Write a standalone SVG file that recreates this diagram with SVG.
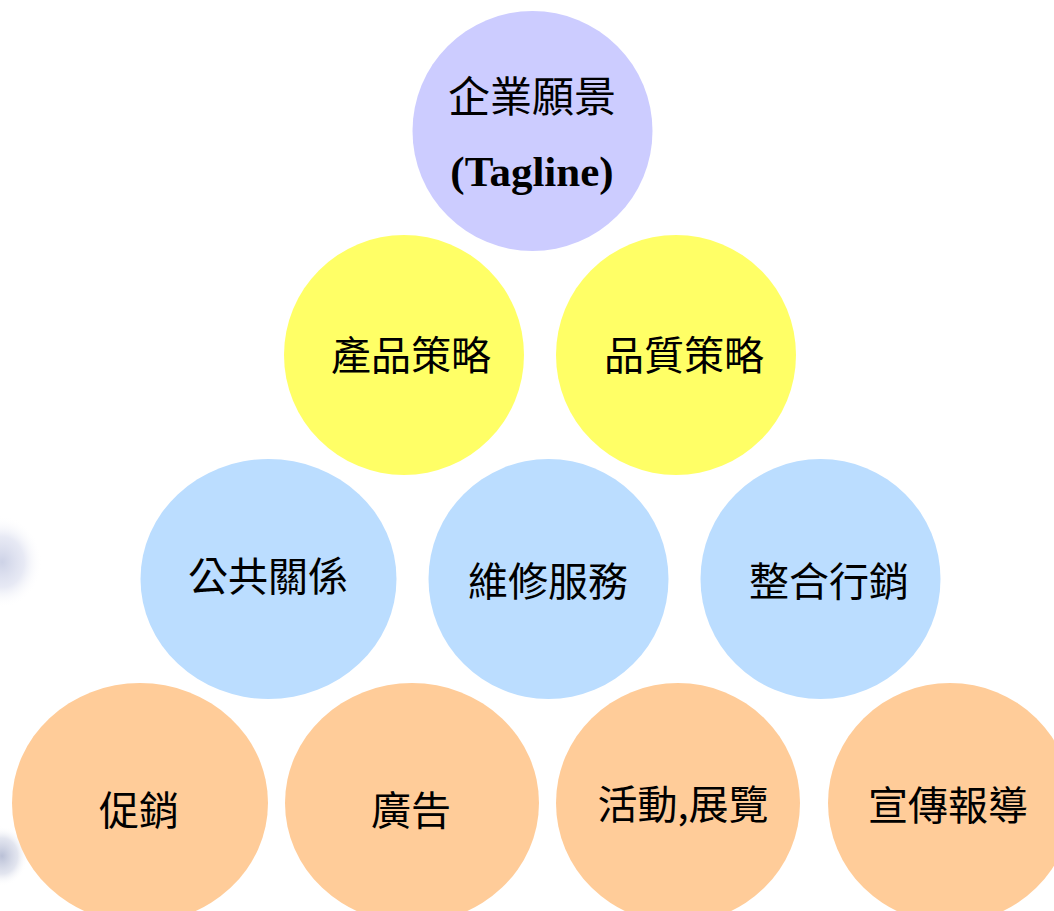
<svg xmlns="http://www.w3.org/2000/svg" width="1054" height="911" viewBox="0 0 1054 911">
<style>
.purple{fill:#CCCCFF}
.yellow{fill:#FFFF66}
.blue{fill:#BBDDFF}
.orange{fill:#FFCC99}
.lbl{font-family:"Noto Sans CJK TC","Noto Sans CJK SC",sans-serif;font-size:40px;fill:#000;text-anchor:middle}
.tag{font-family:"Liberation Serif",serif;font-size:43px;font-weight:bold;fill:#000;text-anchor:middle}
</style>
<defs>
<radialGradient id="shadow" cx="0.5" cy="0.5" r="0.5">
<stop offset="0" stop-color="#C4CAE2" stop-opacity="0.85"/>
<stop offset="0.55" stop-color="#D4D8EC" stop-opacity="0.55"/>
<stop offset="1" stop-color="#FFFFFF" stop-opacity="0"/>
</radialGradient>
<radialGradient id="shadow2" cx="0.5" cy="0.5" r="0.5">
<stop offset="0" stop-color="#A8B0CC" stop-opacity="0.8"/>
<stop offset="0.6" stop-color="#C0C6DC" stop-opacity="0.45"/>
<stop offset="1" stop-color="#FFFFFF" stop-opacity="0"/>
</radialGradient>
</defs>
<rect width="1054" height="911" fill="#FFFFFF"/>
<g id="background-shadows">
<ellipse cx="2" cy="562" rx="40" ry="46" fill="url(#shadow)"/>
<ellipse cx="2" cy="856" rx="26" ry="30" fill="url(#shadow2)"/>
</g>
<g id="connectors"></g>
<g id="node-vision">
<circle class="purple" cx="532.5" cy="131" r="120"/>
<text class="lbl" x="532" y="112" style="font-size:42px">企業願景</text>
<text class="tag" x="532" y="186">(Tagline)</text>
</g>
<g id="node-product">
<ellipse class="yellow" cx="404" cy="355" rx="120" ry="120"/>
<text class="lbl" x="411" y="370">產品策略</text>
</g>
<g id="node-quality">
<ellipse class="yellow" cx="676" cy="355" rx="120" ry="120"/>
<text class="lbl" x="684" y="370">品質策略</text>
</g>
<g id="node-pr">
<ellipse class="blue" cx="268.5" cy="579" rx="128" ry="120"/>
<text class="lbl" x="268" y="591">公共關係</text>
</g>
<g id="node-service">
<ellipse class="blue" cx="548.5" cy="579" rx="120" ry="120"/>
<text class="lbl" x="548" y="596">維修服務</text>
</g>
<g id="node-imc">
<ellipse class="blue" cx="820.5" cy="579" rx="120" ry="120"/>
<text class="lbl" x="829" y="596">整合行銷</text>
</g>
<g id="node-promo">
<ellipse class="orange" cx="140" cy="803" rx="128" ry="120"/>
<text class="lbl" x="139" y="825">促銷</text>
</g>
<g id="node-ad">
<ellipse class="orange" cx="412" cy="803" rx="127" ry="120"/>
<text class="lbl" x="411" y="825">廣告</text>
</g>
<g id="node-event">
<ellipse class="orange" cx="678" cy="803" rx="122" ry="120"/>
<text class="lbl" x="683" y="819">活動,展覽</text>
</g>
<g id="node-publicity">
<ellipse class="orange" cx="950" cy="803" rx="122" ry="120"/>
<text class="lbl" x="948" y="820">宣傳報導</text>
</g>
</svg>
